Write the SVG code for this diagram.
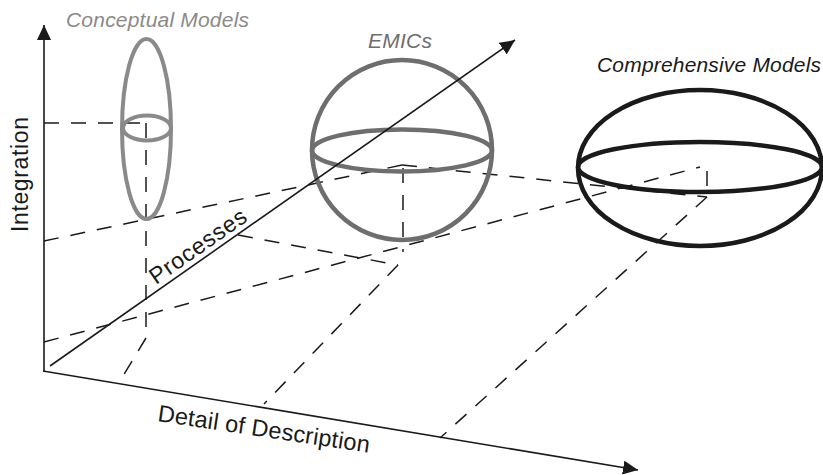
<svg xmlns="http://www.w3.org/2000/svg" width="823" height="475" viewBox="0 0 823 475">
  <defs>
    <style>
      .guide { fill: none; stroke: #1a1a1a; stroke-width: 1.5; stroke-dasharray: 15 12; }
      .axis { fill: none; stroke: #1a1a1a; stroke-width: 1.6; }
      .lbl { font-family: "Liberation Sans", Arial, Helvetica, sans-serif; }
      .mlbl { font-family: "Liberation Sans", Arial, Helvetica, sans-serif; font-style: italic; font-size: 21px; }
      .shape { fill: none; }
    </style>
    <marker id="arr" markerWidth="16" markerHeight="14" refX="15" refY="7" orient="auto" markerUnits="userSpaceOnUse">
      <path d="M0,0 L15,7 L0,14 z" fill="#1a1a1a"/>
    </marker>
  </defs>
  <rect width="823" height="475" fill="#ffffff"/>

  <g id="guides">
    <line class="guide" x1="44" y1="123" x2="146" y2="123"/>
    <line class="guide" x1="146" y1="123" x2="146" y2="338"/>
    <line class="guide" x1="146" y1="338" x2="123" y2="376"/>
    <line class="guide" x1="44" y1="241" x2="402" y2="165"/>
    <line class="guide" x1="402" y1="165" x2="707" y2="197"/>
    <line class="guide" x1="44" y1="342" x2="700" y2="167"/>
    <line class="guide" x1="238" y1="235" x2="398" y2="265"/>
    <line class="guide" x1="398" y1="265" x2="264" y2="404"/>
    <line class="guide" x1="403" y1="168" x2="403" y2="252"/>
    <line class="guide" x1="707" y1="171" x2="707" y2="190"/>
    <line class="guide" x1="707" y1="197" x2="440" y2="438"/>
  </g>

  <g id="conceptual">
    <ellipse class="shape" cx="146.5" cy="129" rx="24.5" ry="90" stroke="#8a8a8a" stroke-width="4"/>
    <ellipse class="shape" cx="147" cy="128" rx="24" ry="12.5" stroke="#8a8a8a" stroke-width="4"/>
    <text class="mlbl" x="66" y="27" fill="#8a8a8a" textLength="183">Conceptual Models</text>
  </g>

  <g id="emics">
    <circle class="shape" cx="402" cy="150" r="90" stroke="#6e6e6e" stroke-width="4.5"/>
    <ellipse class="shape" cx="402" cy="150.5" rx="90" ry="21" stroke="#6e6e6e" stroke-width="4.5"/>
    <text class="mlbl" x="368" y="48" fill="#6e6e6e" textLength="64">EMICs</text>
  </g>

  <g id="comprehensive">
    <ellipse class="shape" cx="700" cy="168" rx="122" ry="78" stroke="#1a1a1a" stroke-width="4.5"/>
    <ellipse class="shape" cx="700" cy="167" rx="122" ry="25" stroke="#1a1a1a" stroke-width="4.5"/>
    <text class="mlbl" x="597" y="72" fill="#1a1a1a" textLength="224">Comprehensive Models</text>
  </g>

  <g id="axes">
    <line class="axis" x1="44" y1="372" x2="44" y2="25" marker-end="url(#arr)"/>
    <line class="axis" x1="43" y1="371" x2="638" y2="470" marker-end="url(#arr)"/>
    <line class="axis" x1="50" y1="366" x2="515" y2="40" marker-end="url(#arr)"/>
    <text class="lbl" transform="translate(28,232) rotate(-90)" font-size="23" fill="#1a1a1a" textLength="115">Integration</text>
    <text class="lbl" transform="translate(156,285) rotate(-35)" font-size="23" fill="#1a1a1a" textLength="113">Processes</text>
    <text class="lbl" transform="translate(157,421) rotate(8.5)" font-size="23.5" fill="#1a1a1a" textLength="214">Detail of Description</text>
  </g>
</svg>
